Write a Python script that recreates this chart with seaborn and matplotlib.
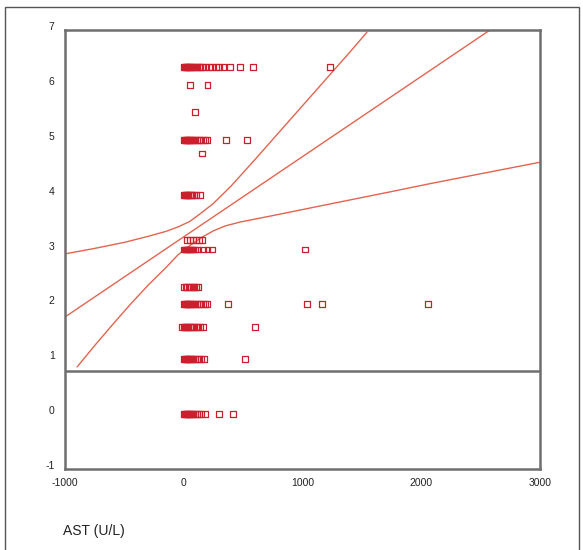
import matplotlib
matplotlib.use("Agg")
import matplotlib.pyplot as plt
import matplotlib.transforms as mtransforms
from matplotlib.patches import Rectangle
import seaborn as sns
import pandas as pd

# ---- data ----
rows = {
    6.32: [0, 8, 16, 24, 32, 40, 50, 60, 70, 80, 95, 110, 125, 140, 155, 180, 210, 240, 270, 300, 335, 390, 475, 585, 1230],
    6.0: [55, 200],
    5.5: [95],
    5.0: [0, 8, 16, 24, 32, 40, 50, 60, 70, 80, 95, 110, 125, 140, 160, 180, 195, 355, 535],
    4.75: [150],
    4.0: [0, 8, 16, 24, 32, 40, 50, 60, 70, 85, 100, 140],
    3.17: [30, 55, 80, 105, 130, 150],
    3.0: [0, 8, 16, 24, 32, 40, 50, 60, 70, 80, 95, 120, 160, 200, 235, 1020],
    2.32: [0, 15, 30, 45, 60, 75, 90, 105, 120],
    2.0: [0, 8, 16, 24, 32, 40, 50, 60, 70, 80, 95, 110, 125, 140, 160, 180, 195, 375, 1040, 1165, 2055],
    1.58: [-15, 0, 10, 20, 30, 40, 50, 60, 75, 90, 105, 120, 140, 160, 600],
    1.0: [0, 8, 16, 24, 32, 40, 50, 60, 70, 80, 95, 110, 125, 145, 170, 515],
    0.0: [0, 8, 16, 24, 32, 40, 50, 60, 70, 80, 95, 110, 125, 145, 180, 300, 415],
}

fit_x = [-1000, 2579]
fit_y = [1.77, 7.0]

upper_x = [-1000, -750, -500, -300, -150, -50, 50, 150, 250, 400, 600, 800, 1000, 1200, 1400, 1543]
upper_y = [2.92, 3.02, 3.13, 3.24, 3.33, 3.41, 3.51, 3.67, 3.84, 4.16, 4.64, 5.13, 5.62, 6.11, 6.60, 6.96]

lower_x = [-898, -750, -600, -450, -300, -150, -50, 50, 150, 250, 350, 474, 800, 1232, 1737, 2074, 2500, 3000]
lower_y = [0.86, 1.25, 1.63, 2.00, 2.35, 2.67, 2.90, 3.07, 3.22, 3.34, 3.43, 3.50, 3.64, 3.83, 4.05, 4.20, 4.38, 4.59]

ref_line_y = 0.79

x_ticks = [-1000, 0, 1000, 2000, 3000]
y_ticks = [-1, 0, 1, 2, 3, 4, 5, 6, 7]
x_label = "AST (U/L)"

# ---- build frames ----
pts = pd.DataFrame([(x, y) for y, xs in rows.items() for x in xs], columns=["ast", "val"])
fit_df = pd.DataFrame({"ast": fit_x, "val": fit_y})
up_df = pd.DataFrame({"ast": upper_x, "val": upper_y})
lo_df = pd.DataFrame({"ast": lower_x, "val": lower_y})

sns.set_style("white")
plt.rcParams["font.family"] = ["Liberation Sans", "DejaVu Sans"]

fig = plt.figure(figsize=(5.83, 5.5), dpi=100)
ax = fig.add_axes([65 / 583, 1 - 469 / 550, 475 / 583, 439 / 550])

red = "#cc1f2e"
line_c = "#e2644f"

for d in (fit_df, up_df, lo_df):
    sns.lineplot(data=d, x="ast", y="val", ax=ax, color=line_c, lw=1.0,
                 sort=False, estimator=None)

sns.scatterplot(data=pts, x="ast", y="val", ax=ax, marker="s", s=18,
                facecolors="none", edgecolor=red, linewidth=0.9, zorder=3)

ax.axhline(ref_line_y, color="#6e6e6e", lw=1.8, zorder=4)

ax.set_xlim(-1000, 3000)
ax.set_ylim(-1, 7)
ax.set_xticks(x_ticks)
ax.set_xticklabels([str(t) for t in x_ticks])
ax.set_yticks(y_ticks)
ax.set_yticklabels([str(t) for t in y_ticks])
ax.set_xlabel("")
ax.set_ylabel("")

for s in ax.spines.values():
    s.set_visible(True)
    s.set_color("#6e6e6e")
    s.set_linewidth(1.8)

ax.tick_params(axis="both", which="both", labelsize=7.5, colors="#222222",
               length=2.5, width=1, direction="out", pad=4)
ax.tick_params(axis="y", pad=5)

off = mtransforms.ScaledTranslation(0, 4 / 100, fig.dpi_scale_trans)
for lab in ax.get_yticklabels():
    lab.set_transform(lab.get_transform() + off)

fig.text(63 / 583, 1 - 531 / 550, x_label, fontsize=10, color="#222222",
         ha="left", va="center")

# outer frame of the image
fig.patches.append(Rectangle((5 / 583, -0.05), 574 / 583, 0.05 + (550 - 7) / 550,
                             transform=fig.transFigure, fill=False,
                             edgecolor="#555555", lw=1.0))

fig.savefig("out.png", dpi=100)
